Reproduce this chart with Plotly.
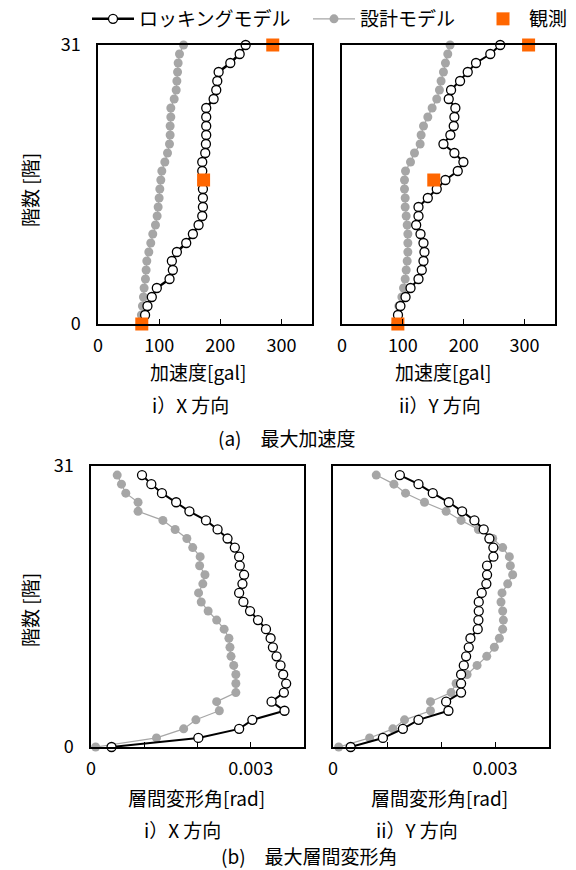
import plotly.graph_objects as go

# ---------------- data ----------------
floors_acc = list(range(31, -1, -1))    # 31 .. 0
floors_drift = list(range(30, -1, -1))  # 30 .. 0

# (a) maximum acceleration [gal], listed from floor 31 down to 0
acc_x_rocking = [241.5, 231.7, 216.4, 197.3, 195.1, 193.4, 189.1, 177.0, 177.0, 177.0, 177.0,
                 176.5, 175.4, 170.5, 170.5, 171.5, 171.6, 171.6, 171.6, 170.5, 164.5, 155.2,
                 144.3, 129.0, 120.8, 122.4, 117.0, 96.2, 88.0, 80.9, 77.0, 72.0]
acc_x_design = [139.9, 133.3, 131.1, 130.1, 129.0, 127.9, 124.6, 119.1, 119.1, 118.0, 118.0,
                116.9, 113.7, 109.3, 104.4, 102.7, 101.1, 100.0, 98.4, 96.7, 94.0, 89.6,
                86.3, 83.1, 79.8, 78.7, 77.6, 75.4, 74.3, 72.7, 71.0, 70.0]
acc_y_rocking = [260.0, 243.7, 220.2, 206.6, 194.0, 179.2, 175.4, 186.3, 184.7, 183.6, 178.1,
                 166.7, 184.7, 199.5, 190.2, 169.9, 155.7, 141.0, 125.7, 125.7, 121.9, 129.0,
                 133.9, 135.5, 133.9, 131.1, 125.7, 112.6, 104.4, 96.0, 92.0, 90.0]
acc_y_design = [177.6, 173.8, 170.0, 166.7, 162.8, 160.1, 155.7, 148.1, 141.0, 133.9, 130.0,
                128.4, 119.1, 112.6, 104.4, 102.7, 102.7, 103.8, 103.8, 105.5, 107.1, 108.2,
                108.2, 108.2, 107.1, 105.5, 103.8, 101.1, 98.4, 93.4, 91.8, 90.7]
obs_floors = [31, 16, 0]
obs_acc_x = [285.8, 172.7, 71.6]
obs_acc_y = [306.6, 150.8, 91.8]

# (b) maximum story drift angle [rad], listed from floor 30 down to 0
drift_x_rocking = [0.000958, 0.001133, 0.001332, 0.001599, 0.001848, 0.002159, 0.002377, 0.002564,
                   0.002701, 0.002782, 0.002794, 0.002875, 0.002844, 0.002782, 0.002862, 0.002987,
                   0.003136, 0.003286, 0.003373, 0.003416, 0.003485, 0.003559, 0.003609, 0.003665,
                   0.003622, 0.003391, 0.003634, 0.003030, 0.002782, 0.002016, 0.000386]
drift_x_design = [0.000492, 0.000572, 0.000653, 0.000884, 0.000884, 0.001350, 0.001580, 0.001800,
                  0.001910, 0.002050, 0.002040, 0.002140, 0.002100, 0.002020, 0.002070, 0.002200,
                  0.002360, 0.002500, 0.002590, 0.002610, 0.002630, 0.002680, 0.002720, 0.002720,
                  0.002720, 0.002360, 0.002410, 0.001970, 0.001740, 0.001230, 0.000087]
drift_y_rocking = [0.001238, 0.001583, 0.001848, 0.002144, 0.002391, 0.002619, 0.002791, 0.002896,
                   0.002970, 0.002970, 0.002853, 0.002853, 0.002840, 0.002754, 0.002699, 0.002699,
                   0.002693, 0.002680, 0.002545, 0.002514, 0.002465, 0.002422, 0.002372, 0.002372,
                   0.002372, 0.002095, 0.002138, 0.001583, 0.001294, 0.000924, 0.000327]
drift_y_design = [0.000801, 0.001128, 0.001343, 0.001694, 0.002095, 0.002372, 0.002693, 0.002958,
                  0.003142, 0.003266, 0.003284, 0.003327, 0.003235, 0.003130, 0.003111, 0.003142,
                  0.003155, 0.003142, 0.003081, 0.002988, 0.002847, 0.002668, 0.002483, 0.002280,
                  0.002187, 0.001805, 0.001805, 0.001325, 0.001109, 0.000678, 0.000105]

acc_ticks = [0, 100, 200, 300]
drift_ticks = [0, 0.001, 0.002, 0.003, 0.004]
drift_ticktext = ["0", "", "", "0.003", ""]
floor_ticks = [0, 31]

NAME_ROCK = "ロッキングモデル"
NAME_DES = "設計モデル"
NAME_OBS = "観測"

# ---------------- styles ----------------
W, H = 576, 870
FONT = "Noto Sans CJK JP"
GRAY = "#a6a6a6"
ORANGE = "#ff6600"


def px(x):
    return x / W


def py(y):
    return 1 - y / H


fig = go.Figure()


def add_panel(xa, ya, x_des, x_rock, yfl, x_obs=None, show=False, rock_w=2):
    fig.add_trace(go.Scatter(
        x=x_des, y=yfl, mode="lines+markers", name=NAME_DES,
        line=dict(color=GRAY, width=1.2),
        marker=dict(color=GRAY, size=9, symbol="circle"),
        xaxis=xa, yaxis=ya, cliponaxis=False, showlegend=show, legend="legend2"))
    fig.add_trace(go.Scatter(
        x=x_rock, y=yfl, mode="lines+markers", name=NAME_ROCK,
        line=dict(color="black", width=rock_w),
        marker=dict(color="white", size=9, symbol="circle", line=dict(color="black", width=1.3)),
        xaxis=xa, yaxis=ya, cliponaxis=False, showlegend=show, legend="legend"))
    if x_obs is not None:
        fig.add_trace(go.Scatter(
            x=x_obs, y=obs_floors, mode="markers", name=NAME_OBS,
            marker=dict(color=ORANGE, size=13, symbol="square"),
            xaxis=xa, yaxis=ya, cliponaxis=False, showlegend=show, legend="legend3"))


add_panel("x", "y", acc_x_design, acc_x_rocking, floors_acc, obs_acc_x, show=True, rock_w=2.5)
add_panel("x2", "y2", acc_y_design, acc_y_rocking, floors_acc, obs_acc_y)
add_panel("x3", "y3", drift_x_design, drift_x_rocking, floors_drift)
add_panel("x4", "y4", drift_y_design, drift_y_rocking, floors_drift)

axis_common = dict(showline=True, linecolor="black", linewidth=1.5, mirror=True,
                   showgrid=False, zeroline=False, automargin=False,
                   tickfont=dict(family=FONT, size=18, color="black"))

xdom = {"": (98, 312), "2": (342, 555), "3": (91, 304), "4": (333, 549)}
ydom = {"": (45, 324), "2": (45, 324), "3": (466, 747), "4": (466, 747)}

for k in ["", "2", "3", "4"]:
    x0, x1 = xdom[k]
    y0, y1 = ydom[k]
    xa = dict(axis_common, domain=[px(x0), px(x1)], anchor="y" + k,
              ticks="inside", ticklen=5, tickwidth=1.2, tickcolor="black",
              ticklabelstandoff=5)
    if k in ("", "2"):
        xa.update(range=[0, 350], tickvals=acc_ticks, ticktext=[str(v) for v in acc_ticks])
    else:
        xa.update(range=[0, 0.004], tickvals=drift_ticks, ticktext=drift_ticktext)
    ya = dict(axis_common, domain=[py(y1), py(y0)], anchor="x" + k,
              range=[0, 31], tickvals=floor_ticks, ticktext=[str(v) for v in floor_ticks],
              ticks="", showticklabels=(k in ("", "3")), ticklabelstandoff=12)
    fig.layout["xaxis" + k] = xa
    fig.layout["yaxis" + k] = ya

tf = dict(family=FONT, size=19, color="black")
ann = [
    ("加速度[gal]", 198, 372, 0),
    ("加速度[gal]", 443, 372, 0),
    ("i）X 方向", 190, 405, 0),
    ("ii）Y 方向", 440, 405, 0),
    ("(a)　最大加速度", 287, 437, 0),
    ("層間変形角[rad]", 196, 797, 0),
    ("層間変形角[rad]", 439, 797, 0),
    ("i）X 方向", 182, 829, 0),
    ("ii）Y 方向", 417, 829, 0),
    ("(b)　最大層間変形角", 309, 855, 0),
    ("階数 [階]", 29, 190, -90),
    ("階数 [階]", 29, 610, -90),
]
for t, x, y, a in ann:
    fig.add_annotation(text=t, x=px(x), y=py(y), xref="paper", yref="paper",
                       xanchor="center", yanchor="middle", showarrow=False,
                       textangle=a, font=tf, borderpad=0)

leg_common = dict(orientation="h", yanchor="middle", xanchor="left", bgcolor="rgba(0,0,0,0)",
                  font=dict(family=FONT, size=19, color="black"), itemwidth=42,
                  borderwidth=0, itemsizing="trace")
fig.update_layout(
    width=W, height=H,
    margin=dict(l=0, r=0, t=0, b=0, autoexpand=False),
    paper_bgcolor="white", plot_bgcolor="white",
    font=dict(family=FONT, size=18, color="black"),
    legend=dict(leg_common, x=px(87), y=py(19)),
    legend2=dict(leg_common, x=px(308), y=py(19)),
    legend3=dict(leg_common, x=px(477), y=py(19)),
)

fig.write_html("out.html")
